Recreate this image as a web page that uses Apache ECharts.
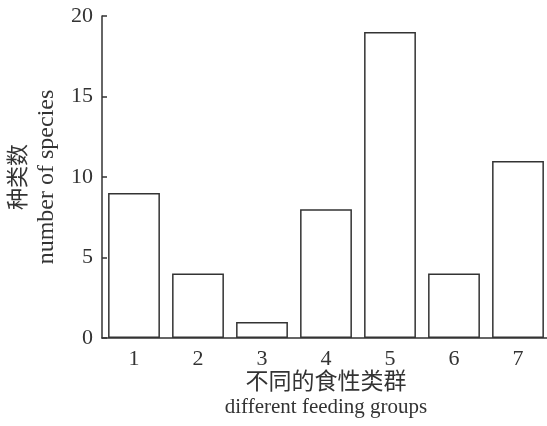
<!DOCTYPE html>
<html>
<head>
    <meta charset="utf-8"/>
    <script src="https://cdn.jsdelivr.net/npm/echarts@6/dist/echarts.min.js"></script>
    <style>
        html, body { margin: 0; padding: 0; background: #fff; }
    </style>
</head>
<body>
<div id="main" style="width: 547px;height:426px;"></div>
<script type="text/javascript">
    // 数据
    var groups = ['1', '2', '3', '4', '5', '6', '7'];
    var speciesCount = [9, 4, 1, 8, 19, 4, 11];
    var yTicks = [0, 5, 10, 15, 20];

    var font = '"Liberation Serif", "Times New Roman", "Noto Sans CJK SC", serif';
    var ink = '#333';

    var myChart = echarts.init(document.getElementById('main'));

    var option = {
        backgroundColor: '#fff',
        animation: false,
        grid: {
            left: 102,
            right: -3,
            top: 16,
            bottom: 88,
            containLabel: false,
            outerBoundsMode: 'none'
        },
        xAxis: {
            type: 'category',
            data: groups,
            name: '{zh|不同的食性类群}\n{en|different feeding groups}',
            nameLocation: 'middle',
            nameGap: 32,
            nameMoveOverlap: false,
            nameTextStyle: {
                fontFamily: font,
                color: ink,
                rich: {
                    zh: { fontFamily: font, fontSize: 23, color: ink, lineHeight: 25 },
                    en: { fontFamily: font, fontSize: 21, color: ink, lineHeight: 24 }
                }
            },
            axisLine: { lineStyle: { color: ink, width: 1.5 } },
            axisTick: { inside: true, alignWithLabel: true, length: 5, lineStyle: { color: ink, width: 1.5 } },
            axisLabel: { fontFamily: font, fontSize: 22, color: ink, margin: 10 }
        },
        yAxis: {
            type: 'value',
            min: yTicks[0],
            max: yTicks[yTicks.length - 1],
            interval: 5,
            name: '{zh|种类数}\n{en|number of species}',
            nameLocation: 'middle',
            nameGap: 42,
            nameTextStyle: {
                fontFamily: font,
                color: ink,
                rich: {
                    zh: { fontFamily: font, fontSize: 22, color: ink, lineHeight: 27 },
                    en: { fontFamily: font, fontSize: 24, color: ink, lineHeight: 27 }
                }
            },
            axisLine: { show: true, lineStyle: { color: ink, width: 1.5 } },
            axisTick: { show: true, inside: true, length: 5, lineStyle: { color: ink, width: 1.5 } },
            splitLine: { show: false },
            axisLabel: { fontFamily: font, fontSize: 22, color: ink, margin: 9 }
        },
        series: [{
            type: 'bar',
            data: speciesCount,
            barCategoryGap: '19%',
            itemStyle: {
                color: '#fff',
                borderColor: ink,
                borderWidth: 1.5
            }
        }]
    };

    myChart.setOption(option);
</script>
</body>
</html>
